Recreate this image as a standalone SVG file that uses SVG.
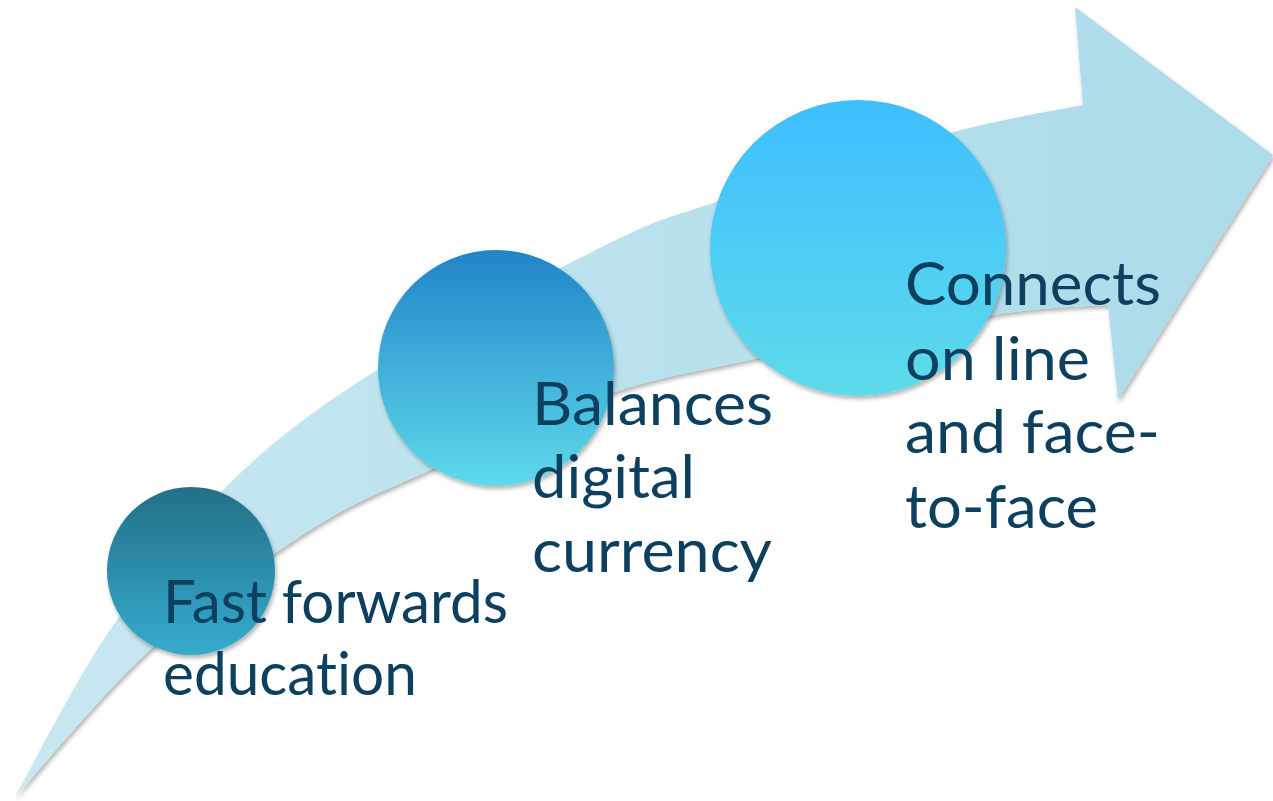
<svg xmlns="http://www.w3.org/2000/svg" width="1273" height="801" viewBox="0 0 1273 801">
<style>
  .lbl { font-family: Lato, "Liberation Sans", sans-serif; font-size: 60px; fill: #0d3f5f; font-variant-ligatures: none; }
</style>
<defs>
  <linearGradient id="band" x1="0" y1="0" x2="1" y2="0">
    <stop offset="0" stop-color="#c8e8f1"/>
    <stop offset="1" stop-color="#acdbea"/>
  </linearGradient>
  <linearGradient id="g1" x1="0" y1="0" x2="0" y2="1">
    <stop offset="0" stop-color="#237086"/>
    <stop offset="1" stop-color="#35abcf"/>
  </linearGradient>
  <linearGradient id="g2" x1="0" y1="0" x2="0" y2="1">
    <stop offset="0" stop-color="#2184c8"/>
    <stop offset="1" stop-color="#5edaea"/>
  </linearGradient>
  <linearGradient id="g3" x1="0" y1="0" x2="0" y2="1">
    <stop offset="0" stop-color="#3ebeff"/>
    <stop offset="1" stop-color="#5edbe9"/>
  </linearGradient>
  <filter id="sh" x="-10%" y="-10%" width="120%" height="125%">
    <feDropShadow dx="1.5" dy="3" stdDeviation="2" flood-color="#000" flood-opacity="0.3"/>
  </filter>
</defs>

<g id="connectors">
  <path id="arrow" filter="url(#sh)" fill="url(#band)" d="M15,797 C30.8,769.2 74.2,682.3 110,630 C145.8,577.7 185.5,526.3 230,483 C274.5,439.7 315.3,409.2 377,370 C438.7,330.8 544,275.8 600,248 C656,220.2 654.7,222.2 713,203 C771.3,183.8 888.3,149.3 950,133 C1011.7,116.7 1060.8,109.7 1083,105 L1075,7 L1273,155 L1118,400 L1108,305 C1088.8,306.7 1054.3,305.5 993,315 C931.7,324.5 805.5,348.3 740,362 C674.5,375.7 651.7,379 600,397 C548.3,415 478.3,447.8 430,470 C381.7,492.2 356.2,500.5 310,530 C263.8,559.5 202.2,602.5 153,647 C103.8,691.5 38,772 15,797 Z"/>
</g>

<g id="node1">
  <circle cx="191" cy="571" r="84" fill="url(#g1)" filter="url(#sh)"/>
  <text class="lbl" x="163" y="623" textLength="345" lengthAdjust="spacingAndGlyphs">Fast forwards</text>
  <text class="lbl" x="163" y="695" textLength="254" lengthAdjust="spacingAndGlyphs">education</text>
</g>
<g id="node2">
  <circle cx="496" cy="368" r="118" fill="url(#g2)" filter="url(#sh)"/>
  <text class="lbl" x="532" y="425" textLength="241" lengthAdjust="spacingAndGlyphs">Balances</text>
  <text class="lbl" x="532" y="498" textLength="163" lengthAdjust="spacingAndGlyphs">digital</text>
  <text class="lbl" x="532" y="572" textLength="240" lengthAdjust="spacingAndGlyphs">currency</text>
</g>
<g id="node3">
  <circle cx="858" cy="248" r="148" fill="url(#g3)" filter="url(#sh)"/>
  <text class="lbl" x="905" y="305" textLength="256" lengthAdjust="spacingAndGlyphs">Connects</text>
  <text class="lbl" x="905" y="380" textLength="185" lengthAdjust="spacingAndGlyphs">on line</text>
  <text class="lbl" x="905" y="453" textLength="255" lengthAdjust="spacingAndGlyphs">and face-</text>
  <text class="lbl" x="905" y="528" textLength="193" lengthAdjust="spacingAndGlyphs">to-face</text>
</g>
</svg>
